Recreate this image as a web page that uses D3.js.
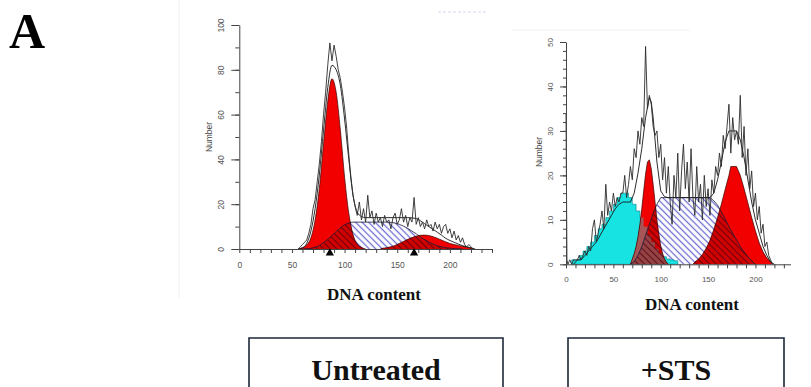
<!DOCTYPE html>
<html>
<head>
<meta charset="utf-8">
<script src="https://cdn.jsdelivr.net/npm/d3@7"></script>
<style>
  html, body { margin: 0; padding: 0; background: #fff; }
  svg { display: block; }
</style>
</head>
<body>
<svg id="fig" width="811" height="387"></svg>
<script>
// ---------- labels ----------
const figureLetter = "A";
const panelTitles = ["Untreated", "+STS"];
const xAxisTitle = "DNA content";
const yAxisTitle = "Number";

const untreatedXTicks = [0, 50, 100, 150, 200];
const untreatedYTicks = [0, 20, 40, 60, 80, 100];
const stsXTicks = [0, 50, 100, 150, 200];
const stsYTicks = [0, 10, 20, 30, 40, 50];
const untreatedMarkers = [86, 166];

// ---------- Untreated: [channel, count] ----------
const untreatedG1 = [[56,0],[60,0.6],[64,1.8],[68,5],[72,13],[76,27],[80,47],[84,66],[88,76],[92,70],[96,53],[100,32],[104,16],[108,6.5],[112,2.2],[116,0.7],[120,0]];
const untreatedS = [[60,0],[64,0.1],[68,0.3],[72,0.8],[76,1.6],[80,2.8],[84,4.3],[88,6],[92,7.8],[96,9.5],[100,10.8],[104,11.6],[108,12],[120,12],[130,12],[140,12],[148,11.6],[152,11],[156,10.2],[160,9.2],[164,8],[168,6.8],[172,5.4],[176,4.2],[180,3.1],[184,2.2],[188,1.5],[192,1],[196,0.6],[200,0.35],[204,0.2],[208,0.1],[212,0]];
const untreatedG2 = [[134,0],[136,0.3],[140,0.6],[144,1],[148,1.6],[152,2.5],[156,3.4],[160,4.3],[164,5.1],[168,5.7],[172,6.1],[176,6.2],[180,6],[184,5.5],[188,4.8],[192,4],[196,3.2],[200,2.5],[204,2],[208,1.6],[212,1.2],[216,0.8],[220,0.4],[222,0]];
const untreatedFit = [[56,0],[60,0.5],[64,2.5],[68,8],[72,18],[76,33],[80,53],[84,72],[88,82],[92,80],[96,73],[100,58],[104,40],[108,24],[112,16.5],[116,14.5],[120,14],[130,14],[140,14],[150,14],[160,14],[168,13.6],[172,12.6],[176,11.3],[180,10],[184,8.8],[188,7.5],[192,6.2],[196,4.8],[200,3.8],[204,3],[208,2.2],[212,1.5],[216,1],[220,0.5],[224,0]];
const untreatedRaw = [[56,0],[58,1],[60,2],[62,3],[64,4],[66,7],[68,11],[70,18],[72,22],[74,30],[76,38],[78,48],[80,60],[82,70],[84,82],[86,92],[88,84],[90,91],[92,86],[94,80],[96,76],[98,70],[100,63],[102,54],[104,42],[106,32],[108,24],[110,19],[112,15],[114,21],[116,13],[118,18],[120,12],[122,24],[124,14],[126,17],[128,11],[130,16],[132,12],[134,14],[136,10],[138,15],[140,12],[142,13],[144,9],[146,14],[148,16],[150,11],[152,13],[154,18],[156,12],[158,15],[160,10],[162,14],[164,12],[166,23],[168,11],[170,14],[172,10],[174,12],[176,9],[178,13],[180,10],[182,11],[184,8],[186,12],[188,9],[190,11],[192,7],[194,10],[196,11],[198,7],[200,9],[202,5],[204,8],[206,4],[208,6],[210,3],[212,5],[214,2],[216,1],[218,2],[220,1],[222,0]];

// ---------- +STS: [channel, count] ----------
const stsApoptotic = [[6,1],[10,1],[14,2],[18,3],[22,4],[26,5],[30,6.5],[34,8],[38,9],[42,10.5],[46,12],[50,13.5],[54,15],[58,16],[62,16],[66,15],[70,13.5],[74,12],[78,10.5],[82,8.5],[86,6.5],[90,5],[94,3.5],[98,2.5],[102,1.7],[106,1.2],[110,1],[114,0.8],[118,0]];
const stsG1 = [[68,0],[70,1.2],[72,2.4],[74,4],[76,6.2],[78,9],[80,12.5],[82,16.5],[84,20.3],[86,23],[88,23.5],[90,21.5],[92,18],[94,14],[96,10],[98,6.8],[100,4.2],[102,2.4],[104,1.2],[106,0.5],[108,0]];
const stsS = [[68,0],[72,0.6],[76,2],[80,4],[84,6.5],[88,9],[92,11.5],[96,13.5],[100,15],[104,15],[112,15],[120,15],[128,15],[136,15],[144,15],[152,15],[156,14.3],[160,13.3],[164,11.8],[168,10.2],[172,8.5],[176,7],[180,5.5],[184,4],[188,2.8],[192,1.7],[196,0.8],[200,0]];
const stsG2 = [[134,0],[136,0.5],[140,1.2],[144,2.2],[148,3.6],[152,5.4],[156,7.8],[160,10.5],[164,13.5],[168,16.8],[172,20],[174,22],[180,22],[184,20],[188,17],[192,13.8],[196,10.5],[200,7.5],[204,4.8],[208,2.8],[212,1.4],[216,0.6],[218,0]];
const stsFit = [[8,0],[12,1],[16,1],[20,2],[24,3],[28,4],[32,5],[36,6.5],[40,8],[44,9.5],[48,11],[52,12.5],[56,13.5],[60,14],[64,14],[68,14],[72,16],[76,20.5],[80,26],[84,33],[88,37.5],[90,36.5],[92,33],[96,23],[100,16.5],[104,15.2],[108,15],[152,15],[156,16],[160,19],[164,23],[168,27.5],[172,30],[176,30],[180,30],[184,28],[188,24],[192,19],[196,14],[200,10],[204,7],[208,4],[212,2],[216,0.5],[220,0]];
const stsRaw = [[0,34],[1,1],[2,0],[4,1],[6,0],[8,1],[10,1],[12,1],[14,2],[16,1],[18,2],[20,3],[22,2],[24,4],[26,3],[28,8],[30,10],[32,5],[34,7],[36,9],[38,12],[40,8],[42,18],[44,11],[46,14],[48,12],[50,16],[52,13],[54,15],[56,14],[58,16],[60,16],[62,20],[64,15],[66,18],[68,22],[70,19],[72,26],[74,24],[76,30],[78,27],[80,33],[82,31],[84,49],[86,35],[88,38],[90,36],[92,31],[94,29],[96,30],[98,24],[100,27],[102,19],[104,24],[106,16],[108,22],[110,14],[112,9],[114,20],[116,15],[118,25],[120,12],[122,21],[124,27],[126,17],[128,23],[130,14],[132,26],[134,15],[136,11],[138,22],[140,14],[142,18],[144,10],[146,20],[148,13],[150,17],[152,11],[154,19],[156,16],[158,22],[160,20],[162,25],[164,22],[166,29],[168,26],[170,31],[172,36],[174,25],[176,33],[178,28],[180,30],[182,27],[184,38],[186,24],[188,31],[190,20],[192,26],[194,17],[196,21],[198,13],[200,16],[202,10],[204,13],[206,7],[208,9],[210,4],[212,5],[214,2],[216,1],[218,0]];

// ---------- drawing ----------
const svg = d3.select("#fig");
const defs = svg.append("defs");
const SANS = "'Liberation Sans', Arial, sans-serif";
const SERIF = "'Liberation Serif', 'Times New Roman', serif";

function hatch(id, bg, stroke, width, opacity) {
  const s = 4.6;
  const p = defs.append("pattern").attr("id", id)
    .attr("patternUnits", "userSpaceOnUse")
    .attr("width", s).attr("height", s)
    .attr("patternTransform", "rotate(-45)");
  if (bg) p.append("rect").attr("width", s).attr("height", s).attr("fill", bg);
  p.append("line").attr("x1", s / 2).attr("y1", 0).attr("x2", s / 2).attr("y2", s)
    .attr("stroke", stroke).attr("stroke-width", width).attr("stroke-opacity", opacity);
}
hatch("hatchBlue", "#ffffff", "#6a6ad2", 1.25, 1);
hatch("hatchDark", null, "#4a0010", 1.1, 0.75);

// faint edges of the two plot images
svg.append("line").attr("x1", 179).attr("x2", 179).attr("y1", 0).attr("y2", 298)
  .attr("stroke", "#f1f1f1").attr("stroke-width", 1);
svg.append("line").attr("x1", 438).attr("x2", 488).attr("y1", 12).attr("y2", 12)
  .attr("stroke", "#d6d6f2").attr("stroke-width", 1.2).attr("stroke-dasharray", "3,2");
svg.append("line").attr("x1", 512).attr("x2", 690).attr("y1", 30).attr("y2", 30)
  .attr("stroke", "#f3f3f3").attr("stroke-width", 1);

function drawPanel(p) {
  const x = d3.scaleLinear().domain(p.xDomain).range(p.xRange);
  const y = d3.scaleLinear().domain(p.yDomain).range(p.yRange);
  const g = svg.append("g").attr("class", "panel-" + p.key);
  const area = c => d3.area().x(d => x(d[0])).y0(y(0)).y1(d => y(d[1])).curve(c);
  const line = c => d3.line().x(d => x(d[0])).y(d => y(d[1])).curve(c);
  const cc = p.componentCurve;

  const redClip = defs.append("clipPath").attr("id", p.key + "-red");
  p.peaks.forEach(pk => redClip.append("path").attr("d", area(cc)(pk)));

  // S phase (hatched)
  g.append("path").attr("d", area(cc)(p.sPhase)).attr("fill", "url(#hatchBlue)");
  // apoptotic sub-G1 population, drawn as channel steps
  if (p.apoptotic) {
    g.append("path").attr("d", area(d3.curveStepAfter)(p.apoptotic))
      .attr("fill", "#17e3e3").attr("stroke", "#0b7f86").attr("stroke-width", 0.6);
  }
  // G0/G1 and G2/M peaks
  p.peaks.forEach(pk => g.append("path").attr("d", area(cc)(pk)).attr("fill", "#f20000"));
  if (p.apoptotic) {
    defs.append("clipPath").attr("id", p.key + "-g1")
      .append("path").attr("d", area(cc)(p.peaks[0]));
    g.append("path").attr("d", area(d3.curveStepAfter)(p.apoptotic))
      .attr("clip-path", `url(#${p.key}-g1)`).attr("fill", "#a65656");
  }
  // S phase where it lies under the peaks
  g.append("path").attr("d", area(cc)(p.sPhase))
    .attr("clip-path", `url(#${p.key}-red)`).attr("fill", "rgba(90,0,0,0.22)");
  g.append("path").attr("d", area(cc)(p.sPhase))
    .attr("clip-path", `url(#${p.key}-red)`).attr("fill", "url(#hatchDark)");

  // outlines
  g.append("path").attr("d", line(cc)(p.sPhase)).attr("fill", "none")
    .attr("stroke", "#1b1b3c").attr("stroke-width", 0.8);
  p.peaks.forEach(pk => g.append("path").attr("d", line(cc)(pk)).attr("fill", "none")
    .attr("stroke", "#3a0000").attr("stroke-width", 0.7));

  // model sum and raw histogram
  g.append("path").attr("d", line(p.fitCurve)(p.fit)).attr("fill", "none")
    .attr("stroke", "#151515").attr("stroke-width", 0.9);
  g.append("path").attr("d", line(d3.curveLinear)(p.raw)).attr("fill", "none")
    .attr("stroke", "#2b2b2b").attr("stroke-width", 0.9).attr("stroke-linejoin", "round");

  // axes
  const axisColor = "#444";
  const xg = g.append("g").attr("transform", `translate(0,${y(0)})`);
  xg.call(d3.axisBottom(x).tickValues(p.xMinor).tickSize(4).tickSizeOuter(0).tickFormat(""));
  const xl = g.append("g").attr("transform", `translate(0,${y(0)})`);
  xl.call(d3.axisBottom(x).tickValues(p.xTicks).tickSize(0).tickPadding(p.xPad));
  xl.select(".domain").remove();
  xl.selectAll("text").attr("font-family", SANS).attr("font-size", p.tickFont).attr("fill", "#555");

  const yg = g.append("g").attr("transform", `translate(${x(0)},0)`);
  yg.call(d3.axisLeft(y).tickValues(p.yMinor).tickSize(p.yMinorSize).tickSizeOuter(0).tickFormat(""));
  const yl = g.append("g").attr("transform", `translate(${x(0)},0)`);
  yl.call(d3.axisLeft(y).tickValues(p.yTicks).tickSize(p.yMajorSize).tickSizeOuter(0));
  yl.select(".domain").remove();
  yl.selectAll("text")
    .attr("x", 0).attr("y", 0).attr("dy", 0)
    .attr("transform", `translate(${-p.yLabelOffset},0) rotate(-90)`)
    .attr("text-anchor", "middle")
    .attr("font-family", SANS).attr("font-size", p.tickFont).attr("fill", "#555");

  g.selectAll(".domain, .tick line").attr("stroke", axisColor).attr("stroke-width", 1);

  // peak markers
  if (p.markers) {
    const tri = d3.symbol().type(d3.symbolTriangle).size(30);
    g.selectAll(".marker").data(p.markers).join("path")
      .attr("class", "marker")
      .attr("d", tri)
      .attr("transform", d => `translate(${x(d)},${y(0) + 4})`)
      .attr("fill", "#000");
  }

  // axis titles
  g.append("text")
    .attr("transform", `translate(${p.yTitleX},${p.yTitleY}) rotate(-90)`)
    .attr("text-anchor", "middle")
    .attr("font-family", SANS).attr("font-size", 8.5).attr("fill", "#444")
    .text(yAxisTitle);
  g.append("text")
    .attr("x", p.xTitleX).attr("y", p.xTitleY)
    .attr("text-anchor", "middle")
    .attr("font-family", SERIF).attr("font-weight", "bold").attr("font-size", 17)
    .attr("fill", "#111")
    .text(xAxisTitle);
}

drawPanel({
  key: "untreated",
  xDomain: [0, 240], xRange: [239.3, 492],
  yDomain: [0, 100], yRange: [249, 25],
  componentCurve: d3.curveMonotoneX, fitCurve: d3.curveMonotoneX,
  peaks: [untreatedG1, untreatedG2], sPhase: untreatedS,
  fit: untreatedFit, raw: untreatedRaw,
  xTicks: untreatedXTicks, xMinor: d3.range(0, 241, 10), xPad: 13,
  yTicks: untreatedYTicks, yMinor: d3.range(0, 101, 10),
  yMinorSize: 4, yMajorSize: 8, yLabelOffset: 15,
  tickFont: 8.5, markers: untreatedMarkers,
  yTitleX: 212, yTitleY: 137, xTitleX: 374, xTitleY: 300
});

drawPanel({
  key: "sts",
  xDomain: [0, 237], xRange: [566, 790.5],
  yDomain: [0, 50], yRange: [264.3, 42],
  componentCurve: d3.curveLinear, fitCurve: d3.curveLinear,
  peaks: [stsG1, stsG2], sPhase: stsS, apoptotic: stsApoptotic,
  fit: stsFit, raw: stsRaw,
  xTicks: stsXTicks, xMinor: d3.range(0, 231, 10), xPad: 12,
  yTicks: stsYTicks, yMinor: d3.range(0, 51, 2),
  yMinorSize: 3, yMajorSize: 6, yLabelOffset: 13,
  tickFont: 8, markers: null,
  yTitleX: 542, yTitleY: 152, xTitleX: 692, xTitleY: 310
});

// figure letter
svg.append("text").attr("x", 9).attr("y", 48)
  .attr("font-family", SERIF).attr("font-weight", "bold").attr("font-size", 50)
  .attr("fill", "#000").text(figureLetter);

// condition boxes
const boxes = [
  { x0: 249, x1: 503, label: panelTitles[0] },
  { x0: 568, x1: 784, label: panelTitles[1] }
];
boxes.forEach(b => {
  svg.append("path")
    .attr("d", `M${b.x0},390V338H${b.x1}V390`)
    .attr("fill", "none").attr("stroke", "#1d2738").attr("stroke-width", 1.6);
  svg.append("text").attr("x", (b.x0 + b.x1) / 2).attr("y", 380)
    .attr("text-anchor", "middle")
    .attr("font-family", SERIF).attr("font-weight", "bold").attr("font-size", 30)
    .attr("fill", "#111").text(b.label);
});
</script>
</body>
</html>
